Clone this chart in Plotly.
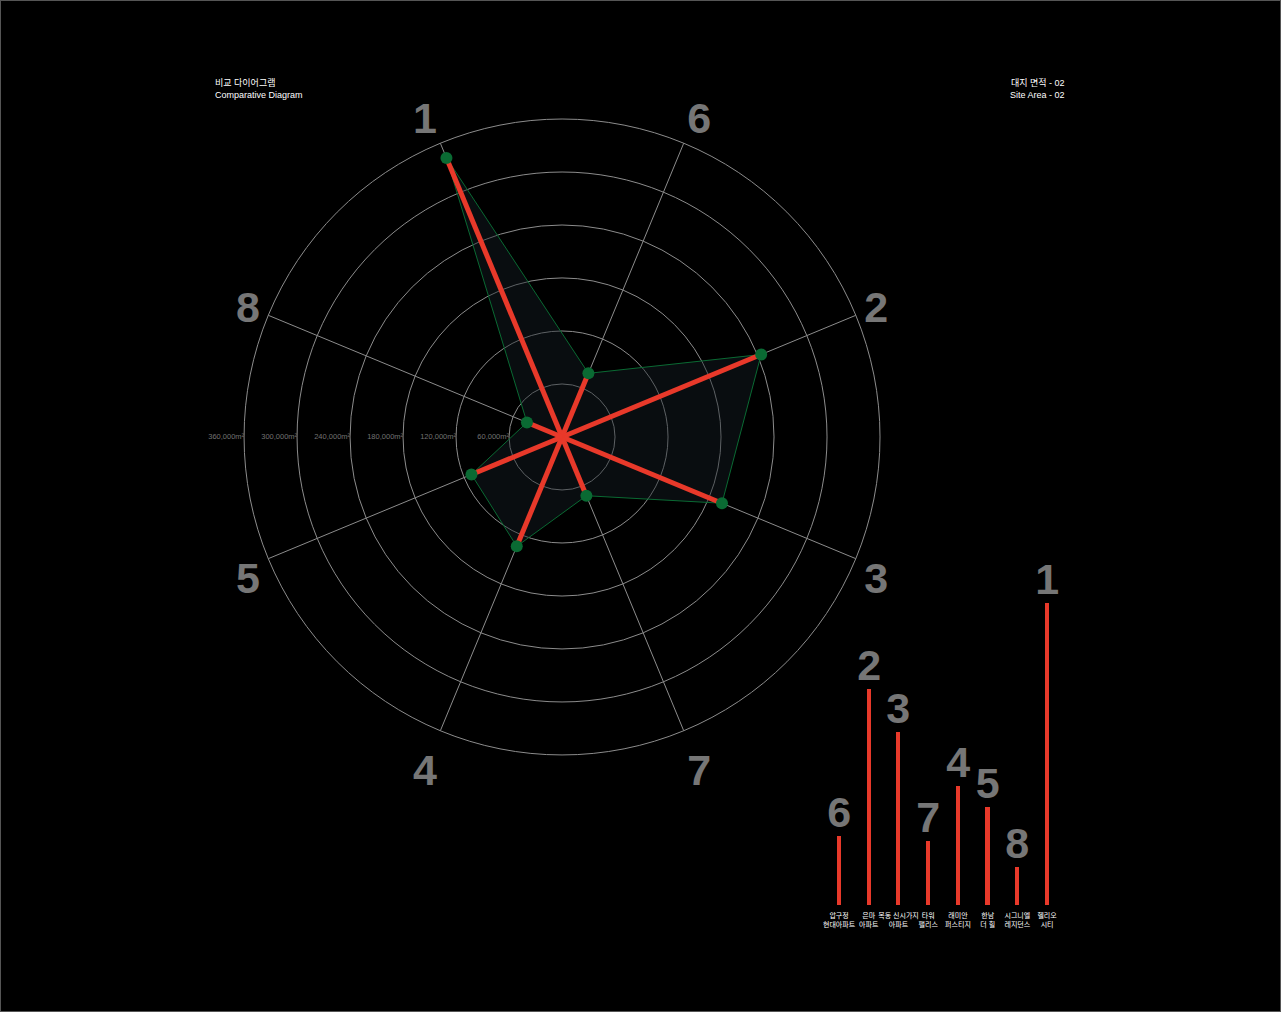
import plotly.graph_objects as go

# radar order (clockwise, starting top-left)
radar_ids = ["1", "6", "2", "3", "7", "4", "5", "8"]
radar_area = [342000, 78000, 244000, 196000, 72000, 134000, 111000, 43000]

# bar order (left to right)
bar_ids = ["6", "2", "3", "7", "4", "5", "8", "1"]
bar_names = ["압구정<br>현대아파트", "은마<br>아파트", "목동 신시가지<br>아파트", "타워<br>팰리스",
             "래미안<br>퍼스티지", "한남<br>더 힐", "시그니엘<br>레지던스", "헬리오<br>시티"]
bar_area = [78000, 244000, 196000, 72000, 134000, 111000, 43000, 342000]

ring_vals = [60000, 120000, 180000, 240000, 300000, 360000]
ring_text = [f"{v:,}m²" for v in ring_vals]

RED = "#e8392a"
GREEN = "#0a6a33"
GRAY_NUM = "#767676"
GRID = "#8c8c8c"
NUM_FONT = "Liberation Sans, Arial, sans-serif"
TXT_FONT = "Liberation Sans, Noto Sans CJK KR, sans-serif"

r_max = ring_vals[-1]
step = 360 / len(radar_ids)
theta = [i * step for i in range(len(radar_ids))]

fig = go.Figure()

# filled polygon with thin green outline
fig.add_trace(go.Scatterpolar(
    r=radar_area + radar_area[:1], theta=theta + theta[:1],
    mode="lines", fill="toself", fillcolor="rgba(22,32,40,0.4)",
    line=dict(color=GREEN, width=1), hoverinfo="skip", showlegend=False,
))

# red spokes from the centre to each value
spoke_r, spoke_t = [], []
for v, t in zip(radar_area, theta):
    spoke_r += [0, v, None]
    spoke_t += [t, t, None]
fig.add_trace(go.Scatterpolar(
    r=spoke_r, theta=spoke_t, mode="lines",
    line=dict(color=RED, width=5), hoverinfo="skip", showlegend=False,
))

# markers
fig.add_trace(go.Scatterpolar(
    r=radar_area, theta=theta, mode="markers",
    marker=dict(color=GREEN, size=12), showlegend=False,
))

# ring labels along the left horizontal
left_theta = 6.5 * step
fig.add_trace(go.Scatterpolar(
    r=ring_vals, theta=[left_theta] * len(ring_vals), mode="text",
    text=ring_text, textposition="middle left",
    textfont=dict(family=NUM_FONT, size=7.5, color="#727272"),
    cliponaxis=False, hoverinfo="skip", showlegend=False,
))

# bar chart
fig.add_trace(go.Bar(
    x=bar_names, y=bar_area, marker=dict(color=RED, line=dict(width=0)),
    width=0.14, text=bar_ids, textposition="outside", textangle=0,
    constraintext="none", cliponaxis=False,
    textfont=dict(family=NUM_FONT, size=43, color=GRAY_NUM, weight="bold"),
    xaxis="x", yaxis="y", showlegend=False,
))

fig.update_layout(
    width=1281, height=1012,
    paper_bgcolor="black", plot_bgcolor="black",
    margin=dict(l=0, r=0, t=0, b=0),
    polar=dict(
        domain=dict(x=[0.1905, 0.687], y=[0.254, 0.8824]),
        bgcolor="black",
        radialaxis=dict(range=[0, r_max], tickvals=ring_vals[:-1],
                        showticklabels=False, ticks="", showline=False,
                        gridcolor=GRID, gridwidth=1),
        angularaxis=dict(type="linear", rotation=112.5, direction="clockwise",
                         tickvals=theta, ticktext=radar_ids, ticks="",
                         showline=True, linecolor=GRID, linewidth=1,
                         gridcolor=GRID, gridwidth=1,
                         tickfont=dict(family=NUM_FONT, size=43, color=GRAY_NUM,
                                       weight="bold")),
    ),
    xaxis=dict(domain=[0.6434, 0.829], range=[-0.5, 7.5], showgrid=False,
               zeroline=False, showline=False, ticks="", tickangle=0,
               ticklabelstandoff=5,
               tickfont=dict(family=TXT_FONT, size=7, color="white")),
    yaxis=dict(domain=[0.1057, 0.4197], range=[0, r_max], showgrid=False,
               zeroline=False, showline=False, showticklabels=False),
    bargap=0,
    annotations=[
        dict(text="비교 다이어그램<br>Comparative Diagram", xref="paper", yref="paper",
             x=0.1663, y=0.9125, xanchor="left", yanchor="middle", align="left",
             showarrow=False, font=dict(family=TXT_FONT, size=9, color="white")),
        dict(text="대지 면적 - 02<br>Site Area - 02", xref="paper", yref="paper",
             x=0.833, y=0.9125, xanchor="right", yanchor="middle", align="right",
             showarrow=False, font=dict(family=TXT_FONT, size=9, color="white")),
    ],
    shapes=[dict(type="rect", xref="paper", yref="paper", x0=0, y0=0, x1=1, y1=1,
                 line=dict(color="#555555", width=2))],
)

fig.write_html("out.html", config={"displayModeBar": False},
               post_script="document.body.style.margin='0';"
                           "document.body.style.background='black';")
